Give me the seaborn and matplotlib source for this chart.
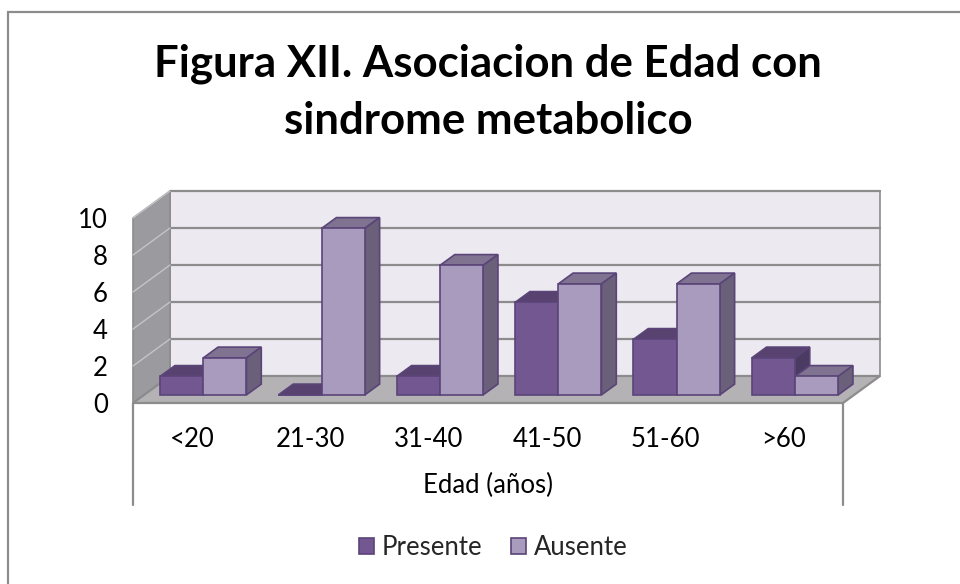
import numpy as np
import pandas as pd
import matplotlib
matplotlib.use("Agg")
import matplotlib.pyplot as plt
from matplotlib.patches import Polygon, Rectangle
import seaborn as sns

# Datos
edades = ['<20', '21-30', '31-40', '41-50', '51-60', '>60']
presente = [1, 0, 1, 5, 3, 2]
ausente = [2, 9, 7, 6, 6, 1]
grupos = ['Presente', 'Ausente']
titulo = ['Figura XII. Asociacion de Edad con', 'sindrome metabolico']
eje_x = 'Edad (años)'
yticks = [0, 2, 4, 6, 8, 10]

df = pd.DataFrame({
    'edad': edades * 2,
    'valor': presente + ausente,
    'grupo': ['Presente'] * len(edades) + ['Ausente'] * len(edades),
})

# colores: cara frontal, tapa, lateral
frente = {'Presente': '#735791', 'Ausente': '#a99bbe'}
tapa = {'Presente': '#574270', 'Ausente': '#807392'}
lado = {'Presente': '#4b3a62', 'Ausente': '#6a6079'}
borde = '#5a4478'

sns.set_theme(style='white')
plt.rcParams['font.family'] = ['Lato', 'DejaVu Sans']

W, H = 960, 584
fig = plt.figure(figsize=(W / 100, H / 100), dpi=100)
fig.patch.set_facecolor('white')

# marco exterior (sale por la derecha y por abajo)
fig.patches.append(Rectangle((8 / W, -0.1), 1.2, 1.1 - 12 / H, transform=fig.transFigure,
                             fill=False, edgecolor='#8c8c8c', linewidth=1.6))

ax = fig.add_axes([133 / W, (H - 403) / H, 710 / W, 185 / H])

# profundidad de la perspectiva (en unidades de datos)
DX, DY = 0.313, 1.46
f0, f1 = 0.3, 0.7
x0, x1 = -0.5, len(edades) - 0.5
ymax = yticks[-1]

# paredes y suelo
ax.add_patch(Polygon([(x0 + DX, DY), (x1 + DX, DY), (x1 + DX, ymax + DY), (x0 + DX, ymax + DY)],
                     closed=True, facecolor='#ece9f1', edgecolor='#8c8c8c', lw=1.2, zorder=1, clip_on=False))
ax.add_patch(Polygon([(x0, 0), (x0, ymax), (x0 + DX, ymax + DY), (x0 + DX, DY)],
                     closed=True, facecolor='#9b9a9f', edgecolor='#8c8c8c', lw=1.2, zorder=1, clip_on=False))
ax.add_patch(Polygon([(x0, 0), (x1, 0), (x1 + DX, DY), (x0 + DX, DY)],
                     closed=True, facecolor='#b5b2b6', edgecolor='#8c8c8c', lw=1.6, zorder=2, clip_on=False))
for t in yticks[1:]:
    ax.plot([x0 + DX, x1 + DX], [t + DY, t + DY], color='#8c8c8c', lw=1.6, zorder=1.5, clip_on=False)
    ax.plot([x0, x0 + DX], [t, t + DY], color='#c4c4c8', lw=1.0, zorder=1.5, clip_on=False)

sns.barplot(data=df, x='edad', y='valor', hue='grupo', hue_order=grupos, order=edades,
            palette=frente, width=0.73, saturation=1, edgecolor=borde, linewidth=1.2,
            ax=ax, legend=True)

handles, labels = ax.get_legend_handles_labels()
if ax.get_legend() is not None:
    ax.get_legend().remove()

# convertir cada barra en un prisma
bars = []
for g, cont in zip(grupos, ax.containers):
    for p in cont:
        bars.append((g, p))
bars.sort(key=lambda b: b[1].get_x())
bdx, bdy = (f1 - f0) * DX, (f1 - f0) * DY
for i, (g, p) in enumerate(bars):
    x = p.get_x() + f0 * DX
    y = f0 * DY
    w, h = p.get_width(), p.get_height()
    p.set_x(x)
    p.set_y(y)
    z = 3 + i * 0.01
    p.set_zorder(z + 0.005)
    p.set_clip_on(False)
    ax.add_patch(Polygon([(x, y + h), (x + w, y + h), (x + w + bdx, y + h + bdy), (x + bdx, y + h + bdy)],
                         closed=True, facecolor=tapa[g], edgecolor=borde, lw=1.2, zorder=z, clip_on=False))
    ax.add_patch(Polygon([(x + w, y), (x + w + bdx, y + bdy), (x + w + bdx, y + h + bdy), (x + w, y + h)],
                         closed=True, facecolor=lado[g], edgecolor=borde, lw=1.2, zorder=z, clip_on=False))

ax.set_xlim(x0, x1)
ax.set_ylim(0, ymax)
ax.set_yticks(yticks)
ax.set_yticklabels([str(t) for t in yticks], fontsize=18.5, color='black')
ax.tick_params(axis='y', length=0, pad=18)
ax.tick_params(axis='x', length=0, pad=17, labelsize=18.5, labelcolor='black')
ax.set_xlabel(eje_x, fontsize=18.5, color='black', labelpad=15)
ax.set_ylabel('')
for s in ax.spines.values():
    s.set_visible(False)
ax.patch.set_visible(False)

# lineas del eje de categorias
for xv in (x0, x1):
    ax.plot([xv, xv], [0, -5.5], color='#8c8c8c', lw=1.6, clip_on=False, zorder=2)

fig.text(488 / W, (H - 77) / H, titulo[0], ha='center', va='baseline',
         fontsize=31.5, fontweight='bold', color='black')
fig.text(488 / W, (H - 134) / H, titulo[1], ha='center', va='baseline',
         fontsize=31.5, fontweight='bold', color='black')

fig.legend(handles, labels, loc='center', bbox_to_anchor=(493 / W, (H - 547.5) / H), ncol=2,
           frameon=False, fontsize=18.5, handlelength=0.6, handleheight=0.6,
           handletextpad=0.3, columnspacing=1.1)

fig.savefig('out.png', dpi=100)
